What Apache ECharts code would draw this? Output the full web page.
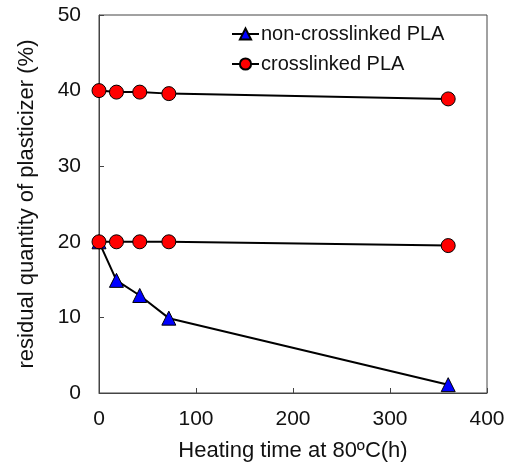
<!DOCTYPE html>
<html><head><meta charset="utf-8">
<script src="https://cdn.jsdelivr.net/npm/echarts@6/dist/echarts.min.js"></script>
<style>html,body{margin:0;padding:0;background:#fff}#c{width:509px;height:468px}</style>
</head><body><div id="c"></div>
<script>
const xTimes = [0, 18, 42, 72, 360];
const nonCrosslinked = [20, 14.9, 12.9, 9.9, 1.1];
const crosslinkedHigh = [40, 39.8, 39.8, 39.6, 38.9];
const crosslinkedLow = [20, 20, 20, 20, 19.5];
const seriesNames = ['non-crosslinked PLA', 'crosslinked PLA'];
const xTicks = [0, 100, 200, 300, 400];
const yTicks = [0, 10, 20, 30, 40, 50];

const pair = (xs, ys) => xs.map((x, i) => [x, ys[i]]);
const font = '"Liberation Sans", Arial, sans-serif';
const axisColor = '#444';

const chart = echarts.init(document.getElementById('c'), null, {renderer: 'canvas'});
chart.setOption({
  animation: false,
  backgroundColor: '#fff',
  grid: {left: 99, right: 22, top: 15, bottom: 75, show: true, borderColor: axisColor, borderWidth: 1},
  legend: {
    data: seriesNames,
    orient: 'vertical',
    left: 226, top: 19,
    itemWidth: 27, itemHeight: 14, itemGap: 10,
    textStyle: {fontFamily: font, fontSize: 20, color: '#111', padding: [0, 0, 0, -3]}
  },
  xAxis: {
    type: 'value', min: xTicks[0], max: xTicks[xTicks.length - 1], interval: 100,
    name: 'Heating time at 80ºC(h)', nameLocation: 'middle', nameGap: 47,
    nameTextStyle: {fontFamily: font, fontSize: 22, color: '#111'},
    axisLine: {show: true, lineStyle: {color: axisColor, width: 1}},
    axisTick: {show: true, inside: true, length: 5, lineStyle: {color: axisColor}},
    axisLabel: {fontFamily: font, fontSize: 21, color: '#111', margin: 16},
    splitLine: {show: false}
  },
  yAxis: {
    type: 'value', min: yTicks[0], max: yTicks[yTicks.length - 1], interval: 10,
    name: 'residual quantity of plasticizer (%)', nameLocation: 'middle', nameGap: 61,
    nameTextStyle: {fontFamily: font, fontSize: 22, color: '#111'},
    axisLine: {show: true, lineStyle: {color: axisColor, width: 1}},
    axisTick: {show: true, inside: true, length: 5, lineStyle: {color: axisColor}},
    axisLabel: {fontFamily: font, fontSize: 21, color: '#111', margin: 18},
    splitLine: {show: false}
  },
  series: [
    {
      name: seriesNames[0], type: 'line', data: pair(xTimes, nonCrosslinked),
      symbol: 'triangle', symbolSize: 14, z: 3,
      lineStyle: {color: '#000', width: 2},
      itemStyle: {color: '#0000ff', borderColor: '#000', borderWidth: 1}
    },
    {
      name: seriesNames[1], type: 'line', data: pair(xTimes, crosslinkedHigh),
      symbol: 'circle', symbolSize: 14, z: 4,
      lineStyle: {color: '#000', width: 2},
      itemStyle: {color: '#ff0000', borderColor: '#000', borderWidth: 1}
    },
    {
      name: seriesNames[1], type: 'line', data: pair(xTimes, crosslinkedLow),
      symbol: 'circle', symbolSize: 14, z: 4,
      lineStyle: {color: '#000', width: 2},
      itemStyle: {color: '#ff0000', borderColor: '#000', borderWidth: 1}
    }
  ]
});
</script></body></html>
